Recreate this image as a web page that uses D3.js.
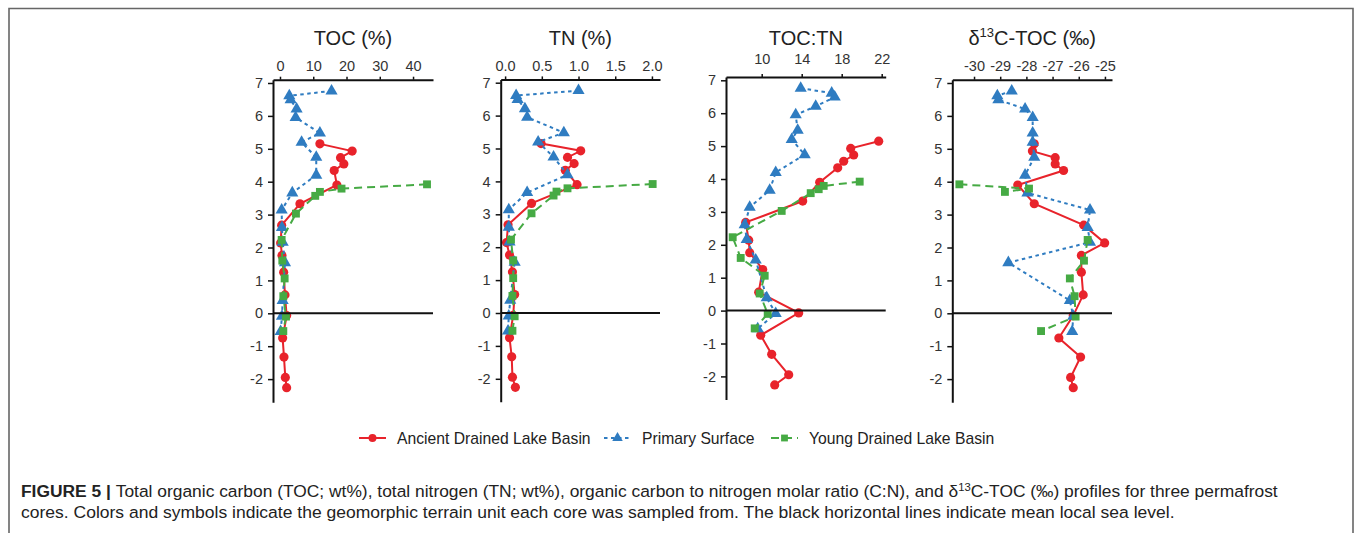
<!DOCTYPE html>
<meta charset="utf-8">
<head>
<style>
  body { margin: 0; background: #fff; }
  text { font-family: "Liberation Sans", Arial, sans-serif; fill: #222; }
  .axis path, .axis line { stroke: #111; }
  .axis path { stroke-width: 2px; }
  .axis text { font-size: 14.5px; fill: #333; font-family: "Liberation Sans", Arial, sans-serif; }
</style>
</head>
<body>
<script src="https://d3js.org/d3.v7.min.js"></script>
<script>

// depth (m, relative to mean sea level) of each sample, per core
var depthAncient = [5.15, 4.93, 4.73, 4.54, 4.34, 3.90, 3.33, 2.68, 2.14, 1.76, 1.25, 0.56, -0.07, -0.75, -1.33, -1.95, -2.26];
var depthPrimary = [6.76, 6.61, 6.49, 6.21, 5.95, 5.48, 5.20, 4.74, 4.20, 3.66, 3.14, 2.61, 2.16, 1.54, 0.39, -0.09, -0.55];
var depthYoung   = [3.92, 3.79, 3.69, 3.57, 3.03, 2.23, 1.60, 1.06, 0.52, -0.10, -0.54];

// TOC (%)
var tocAncient = [12.0, 21.7, 18.2, 19.2, 16.3, 17.1, 6.0, 0.5, 0.2, 0.6, 1.1, 1.5, 2.0, 0.8, 1.2, 1.6, 2.0];
var tocPrimary = [15.5, 2.8, 3.2, 5.0, 4.7, 12.0, 6.5, 10.9, 10.9, 3.7, 0.5, 0.6, 0.8, 1.5, 0.8, 0.6, 0.2];
var tocYoung   = [44.2, 18.5, 12.0, 10.6, 4.8, 0.5, 0.7, 1.4, 1.0, 1.8, 1.0];

// TN (%)
var tnAncient = [0.49, 1.03, 0.85, 0.94, 0.82, 0.98, 0.36, 0.04, 0.02, 0.06, 0.10, 0.13, 0.11, 0.06, 0.09, 0.10, 0.14];
var tnPrimary = [1.00, 0.15, 0.17, 0.27, 0.30, 0.80, 0.45, 0.66, 0.85, 0.30, 0.05, 0.05, 0.06, 0.13, 0.07, 0.05, 0.04];
var tnYoung   = [2.01, 0.85, 0.70, 0.66, 0.36, 0.08, 0.11, 0.11, 0.10, 0.13, 0.10];

// TOC:TN
var cnAncient = [21.7, 18.9, 19.2, 18.2, 17.6, 15.8, 14.1, 8.4, 8.7, 8.8, 10.1, 9.7, 13.7, 9.9, 11.0, 12.7, 11.3];
var cnPrimary = [13.9, 17.0, 17.3, 15.4, 13.4, 13.6, 13.0, 14.3, 11.4, 10.8, 8.8, 8.3, 8.5, 9.4, 10.5, 11.4, 9.6];
var cnYoung   = [19.8, 16.2, 15.7, 14.9, 12.0, 7.1, 7.9, 10.3, 9.8, 10.6, 9.3];

// d13C-TOC (permil), null = not measured
var d13Ancient = [-27.70, -27.77, -26.90, -26.90, -26.58, -28.33, -27.70, -25.81, -25.01, -25.90, -25.90, -25.83, -26.21, -26.76, -25.93, -26.31, -26.21];
var d13Primary = [-28.56, -29.11, -29.07, -28.05, -27.76, -27.76, -27.76, -27.70, -28.05, -27.96, -25.57, -25.66, -25.57, -28.69, -26.34, -26.21, -26.25];
var d13Young   = [-30.56, -27.90, -28.82, null, null, -25.66, -25.80, -26.34, -26.16, -26.12, -27.44];

// tick labels
var depthTicks = [-2, -1, 0, 1, 2, 3, 4, 5, 6, 7];
var tocTicks = [0, 10, 20, 30, 40];
var tnTicks = [0, 0.5, 1.0, 1.5, 2.0];
var cnTicks = [10, 14, 18, 22];
var d13Ticks = [-30, -29, -28, -27, -26, -25];

var seriesNames = ["Ancient Drained Lake Basin", "Primary Surface", "Young Drained Lake Basin"];

var width = 1355, height = 533;

var svg = d3.select("body").append("svg")
    .attr("width", width)
    .attr("height", height);

// frame round the figure
svg.append("path")
    .attr("d", "M9,540V8.5H1353V540")
    .attr("fill", "none")
    .attr("stroke", "#666")
    .attr("stroke-width", 1.6);

var styles = [
  {color: "#e8232b", dash: null, symbol: d3.symbolCircle, size: 66},
  {color: "#2f7cc1", dash: "3.5,3.5", symbol: d3.symbolTriangle, size: 64},
  {color: "#46aa44", dash: "8,5", symbol: d3.symbolSquare, size: 62}
];

var panels = [
  {title: "TOC (%)", x0: 273, x1: 433, dom: [-2.1, 46], ticks: tocTicks, fmt: d3.format("d"), y0: 313.3, pad: 6,
   data: [tocAncient, tocPrimary, tocYoung]},
  {title: "TN (%)", x0: 500.7, x1: 660, dom: [-0.06, 2.11], ticks: tnTicks, fmt: d3.format(".1f"), y0: 313, pad: 5,
   data: [tnAncient, tnPrimary, tnYoung]},
  {title: "TOC:TN", x0: 726, x1: 885.7, dom: [6.43, 22.4], ticks: cnTicks, fmt: d3.format("d"), y0: 310.6, pad: 10,
   data: [cnAncient, cnPrimary, cnYoung]},
  {title: "d13", x0: 952.3, x1: 1112, dom: [-30.83, -24.73], ticks: d13Ticks, fmt: function(d){ return String(d); }, y0: 313.3, pad: 6,
   data: [d13Ancient, d13Primary, d13Young]}
];

var depths = [depthAncient, depthPrimary, depthYoung];
var unit = 32.9; // px per metre of depth

panels.forEach(function(p) {
  var x = d3.scaleLinear().domain(p.dom).range([p.x0, p.x1]);
  var y = d3.scaleLinear().domain([-2.7, 7.1]).range([p.y0 + 2.7 * unit, p.y0 - 7.1 * unit]);
  var g = svg.append("g");

  // series
  p.data.forEach(function(vals, s) {
    var st = styles[s];
    var pts = vals.map(function(v, i) { return {v: v, d: depths[s][i]}; });
    var line = d3.line()
      .defined(function(d) { return d.v != null; })
      .x(function(d) { return x(d.v); })
      .y(function(d) { return y(d.d); });
    g.append("path")
      .datum(pts)
      .attr("d", line)
      .attr("fill", "none")
      .attr("stroke", st.color)
      .attr("stroke-width", 2)
      .attr("stroke-dasharray", st.dash);
    g.selectAll(null)
      .data(pts.filter(function(d) { return d.v != null; }))
      .enter().append("path")
      .attr("d", d3.symbol().type(st.symbol).size(st.size))
      .attr("transform", function(d) { return "translate(" + x(d.v) + "," + y(d.d) + ")"; })
      .attr("fill", st.color);
  });

  // sea level line
  g.append("line")
    .attr("x1", p.x0).attr("x2", p.x1)
    .attr("y1", y(0)).attr("y2", y(0))
    .attr("stroke", "#111").attr("stroke-width", 2);

  g.append("g")
    .attr("class", "axis")
    .attr("transform", "translate(" + p.x0 + ",0)")
    .call(d3.axisLeft(y).tickValues(depthTicks).tickSize(5).tickSizeOuter(0).tickPadding(5)
      .tickFormat(function(d) { return String(d); }))
    .selectAll("line").attr("stroke-width", 1.5);

  var top = y(7.1);
  g.append("g")
    .attr("class", "axis")
    .attr("transform", "translate(0," + top + ")")
    .call(d3.axisTop(x).tickValues(p.ticks).tickSize(3).tickSizeOuter(0).tickPadding(p.pad).tickFormat(p.fmt))
    .selectAll("line").attr("stroke-width", 1.5);

  var t = g.append("text")
    .attr("x", (p.x0 + p.x1) / 2)
    .attr("y", 45)
    .attr("text-anchor", "middle")
    .style("font-size", "20px");
  if (p.title === "d13") {
    t.append("tspan").text("\u03B4");
    t.append("tspan").attr("dy", -8).style("font-size", "13px").text("13");
    t.append("tspan").attr("dy", 8).text("C-TOC (\u2030)");
  } else {
    t.text(p.title);
  }
});

// legend
var legendX = [359, 604, 771];
var legend = svg.append("g").attr("transform", "translate(0,438)");
seriesNames.forEach(function(name, s) {
  var st = styles[s];
  var lx = legendX[s];
  legend.append("line")
    .attr("x1", lx).attr("x2", lx + 27)
    .attr("stroke", st.color).attr("stroke-width", 2)
    .attr("stroke-dasharray", st.dash);
  legend.append("path")
    .attr("d", d3.symbol().type(st.symbol).size(st.size * 0.75))
    .attr("transform", "translate(" + (lx + 13.5) + ",0)")
    .attr("fill", st.color);
  legend.append("text")
    .attr("x", lx + 38)
    .attr("dy", "0.35em")
    .style("font-size", "15.7px")
    .text(name);
});

// caption, squeezed to the width of the original lines
function fitLine(sel, x, y, w) {
  var n = sel.node().getComputedTextLength();
  sel.attr("transform", "translate(" + x + "," + y + ") scale(" + (w / n) + ",1)");
}

var cap1 = svg.append("text").style("font-size", "17px");
cap1.append("tspan").style("font-weight", "bold").text("FIGURE 5");
cap1.append("tspan").style("font-weight", "bold").text(" | ");
cap1.append("tspan").text("Total organic carbon (TOC; wt%), total nitrogen (TN; wt%), organic carbon to nitrogen molar ratio (C:N), and \u03B4");
cap1.append("tspan").attr("dy", -6).style("font-size", "11px").text("13");
cap1.append("tspan").attr("dy", 6).text("C-TOC (\u2030) profiles for three permafrost");
fitLine(cap1, 21, 497, 1258);

var cap2 = svg.append("text").style("font-size", "17px")
  .text("cores. Colors and symbols indicate the geomorphic terrain unit each core was sampled from. The black horizontal lines indicate mean local sea level.");
fitLine(cap2, 21, 518, 1154);

</script>
</body>
